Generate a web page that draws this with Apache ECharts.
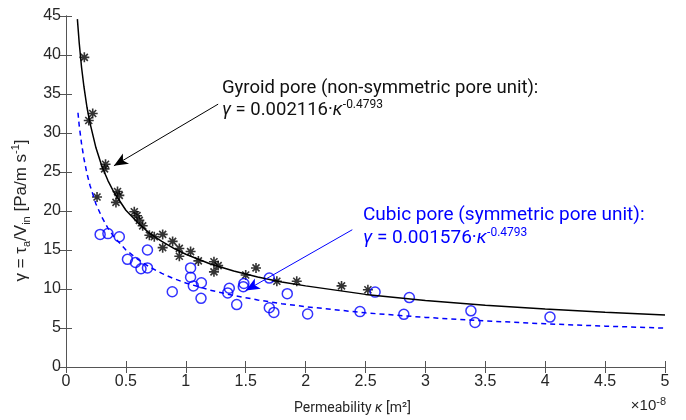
<!DOCTYPE html>
<html>
<head>
<meta charset="UTF-8">
<title></title>
<script src="https://cdn.jsdelivr.net/npm/echarts@6/dist/echarts.min.js"></script>
</head>
<body style="margin:0">
<div id="main" style="width:686px;height:420px;"></div>
<script>
// measured points, permeability in 1e-8 m2
var gyroidK = [0.153, 0.19, 0.223, 0.322, 0.33, 0.259, 0.417, 0.43, 0.445, 0.57, 0.593, 0.612, 0.64, 0.696, 0.737, 0.807, 0.807, 0.89, 0.946, 0.946, 1.04, 1.105, 1.235, 1.27, 1.235, 1.5, 1.586, 1.76, 1.926, 2.3, 2.52];
var gyroidGamma = [39.7, 31.6, 32.5, 25.4, 26.0, 21.8, 21.1, 22.5, 22.0, 19.9, 19.4, 18.8, 18.1, 16.9, 16.7, 17.0, 15.3, 16.1, 15.2, 14.2, 14.8, 13.6, 13.5, 13.0, 12.2, 11.8, 12.7, 11.0, 11.0, 10.4, 9.9];
var cubicK = [0.285, 0.35, 0.445, 0.513, 0.58, 0.626, 0.68, 0.68, 0.887, 1.04, 1.04, 1.063, 1.13, 1.127, 1.35, 1.363, 1.425, 1.48, 1.485, 1.697, 1.697, 1.735, 1.847, 2.017, 2.454, 2.58, 2.82, 2.866, 3.38, 3.414, 4.04];
var cubicGamma = [17.0, 17.1, 16.7, 13.8, 13.4, 12.6, 12.7, 15.0, 9.65, 12.7, 11.5, 10.4, 10.8, 8.8, 9.5, 10.1, 8.0, 10.3, 10.7, 11.4, 7.6, 7.0, 9.4, 6.8, 7.1, 9.6, 6.75, 8.9, 7.2, 5.7, 6.4];

// fitted curves
var gyroidFitK = [0.095, 0.11, 0.13, 0.15, 0.175, 0.2, 0.25, 0.3, 0.35, 0.4, 0.5, 0.6, 0.7, 0.8, 0.9, 1, 1.2, 1.4, 1.6, 1.8, 2, 2.5, 3, 3.5, 4, 4.5, 5];
var gyroidFit = [44.6, 41.6, 38.4, 35.9, 33.3, 31.3, 28.1, 25.7, 23.9, 22.4, 20.1, 18.5, 17.1, 16.1, 15.2, 14.45, 13.24, 12.3, 11.54, 10.9, 10.4, 9.31, 8.53, 7.93, 7.44, 7.03, 6.68];
var cubicFitK = [0.1, 0.11, 0.13, 0.15, 0.175, 0.2, 0.25, 0.3, 0.35, 0.4, 0.5, 0.6, 0.7, 0.8, 0.9, 1, 1.2, 1.4, 1.6, 1.8, 2, 2.5, 3, 3.5, 4, 4.5, 5];
var cubicFit = [32.6, 31.0, 28.6, 26.7, 24.8, 23.3, 20.9, 19.2, 17.8, 16.7, 15.0, 13.8, 12.8, 12.0, 11.33, 10.77, 9.87, 9.17, 8.6, 8.12, 7.73, 6.94, 6.36, 5.91, 5.54, 5.24, 4.98];

function pairs(xs, ys) {
    var out = [];
    for (var i = 0; i < xs.length; i++) out.push([xs[i], ys[i]]);
    return out;
}

var axisColor = '#555';
var labelColor = '#262626';
var tickFont = 'Liberation Sans, Arial, sans-serif';
var noteFont = 'Roboto, sans-serif';
var star = 'path://M5,0L5,10M0,5L10,5M1.5,1.5L8.5,8.5M1.5,8.5L8.5,1.5';

var myChart = echarts.init(document.getElementById('main'));

var option = {
    animation: false,
    grid: { left: 66, right: 21, top: 16, bottom: 51 },
    xAxis: [{
        type: 'value', min: 0, max: 5, interval: 0.5,
        axisLine: { lineStyle: { color: axisColor } },
        axisTick: { inside: true, length: 6, lineStyle: { color: axisColor } },
        splitLine: { show: false },
        axisLabel: { color: labelColor, fontSize: 16, fontFamily: tickFont, margin: 7 },
        name: 'Permeability {i|κ} [m²]',
        nameLocation: 'middle', nameGap: 34,
        nameTextStyle: {
            color: labelColor, fontSize: 14, fontFamily: noteFont, padding: [0, 26, 0, 0],
            rich: { i: { fontSize: 14, fontStyle: 'italic', fontFamily: noteFont, color: labelColor } }
        }
    }, {
        type: 'value', min: 0, max: 5, interval: 0.5, position: 'top',
        axisLine: { lineStyle: { color: axisColor } },
        axisTick: { inside: true, length: 6, lineStyle: { color: axisColor } },
        axisLabel: { show: false }, splitLine: { show: false }
    }],
    yAxis: [{
        type: 'value', min: 0, max: 45, interval: 5,
        axisLine: { show: true, lineStyle: { color: axisColor } },
        axisTick: { show: true, inside: true, length: 6, lineStyle: { color: axisColor } },
        splitLine: { show: false },
        axisLabel: { color: labelColor, fontSize: 16, fontFamily: tickFont, margin: 5 },
        name: 'γ = τ{sub|a}/V{sub|in} [Pa/m s{sup|-1}]',
        nameLocation: 'middle', nameRotate: 90, nameGap: 29,
        nameTextStyle: {
            color: labelColor, fontSize: 17, fontFamily: tickFont, lineHeight: 22,
            padding: [0, 38, 0, 0],
            rich: {
                sub: { fontSize: 11, verticalAlign: 'bottom', lineHeight: 22, fontFamily: tickFont, color: labelColor },
                sup: { fontSize: 11, verticalAlign: 'top', lineHeight: 22, fontFamily: tickFont, color: labelColor }
            }
        }
    }, {
        type: 'value', min: 0, max: 45, interval: 5, position: 'right',
        axisLine: { show: true, lineStyle: { color: axisColor } },
        axisTick: { show: true, inside: true, length: 6, lineStyle: { color: axisColor } },
        axisLabel: { show: false }, splitLine: { show: false }
    }],
    series: [{
        name: 'gyroid fit', type: 'line',
        showSymbol: false, silent: true,
        data: pairs(gyroidFitK, gyroidFit),
        lineStyle: { color: '#000', width: 1.5 },
        markLine: {
            silent: true, symbol: ['none', 'arrow'], symbolSize: [9, 14],
            label: { show: false },
            lineStyle: { color: '#000', width: 1, type: 'solid' },
            data: [[{ coord: [1.27, 33.7] }, { coord: [0.4, 25.8] }]]
        }
    }, {
        name: 'cubic fit', type: 'line',
        showSymbol: false, silent: true,
        data: pairs(cubicFitK, cubicFit),
        lineStyle: { color: '#0000ff', width: 1.5, type: [5, 4] },
        markLine: {
            silent: true, symbol: ['none', 'arrow'], symbolSize: [9, 14],
            label: { show: false },
            lineStyle: { color: '#0000ff', width: 1, type: 'solid' },
            data: [[{ coord: [2.39, 17.6] }, { coord: [1.5, 9.8] }]]
        }
    }, {
        name: 'gyroid', type: 'scatter', symbol: star, symbolSize: 10,
        data: pairs(gyroidK, gyroidGamma),
        itemStyle: { color: 'none', borderColor: '#000', borderWidth: 1.6 }
    }, {
        name: 'cubic', type: 'scatter', symbol: 'circle', symbolSize: 10,
        data: pairs(cubicK, cubicGamma),
        itemStyle: { color: 'rgba(255,255,255,0)', borderColor: '#0000ff', borderWidth: 1.5 }
    }],
    graphic: [{
        type: 'text', left: 222, top: 77,
        style: {
            text: 'Gyroid pore (non-symmetric pore unit):\n{i|γ} = 0.002116·{i|κ}{sup|-0.4793}',
            fill: '#111', fontSize: 18.5, fontFamily: noteFont, lineHeight: 22,
            rich: {
                i: { fontSize: 18.5, fontStyle: 'italic', fontFamily: noteFont, lineHeight: 22 },
                sup: { fontSize: 12, verticalAlign: 'top', fontFamily: noteFont, lineHeight: 22 }
            }
        }
    }, {
        type: 'text', left: 363, top: 204,
        style: {
            text: 'Cubic pore (symmetric pore unit):\n{i|γ} = 0.001576·{i|κ}{sup|-0.4793}',
            fill: '#0000ff', fontSize: 19, fontFamily: noteFont, lineHeight: 23,
            rich: {
                i: { fontSize: 19, fontStyle: 'italic', fontFamily: noteFont, lineHeight: 23, fill: '#0000ff' },
                sup: { fontSize: 12, verticalAlign: 'top', fontFamily: noteFont, lineHeight: 23, fill: '#0000ff' }
            }
        }
    }, {
        type: 'text', right: 20, top: 396,
        style: {
            text: '×10{sup|-8}',
            fill: labelColor, fontSize: 15, fontFamily: tickFont, lineHeight: 20,
            rich: { sup: { fontSize: 11, verticalAlign: 'top', fontFamily: tickFont, lineHeight: 20, fill: labelColor } }
        }
    }]
};

myChart.setOption(option);
</script>
</body>
</html>
